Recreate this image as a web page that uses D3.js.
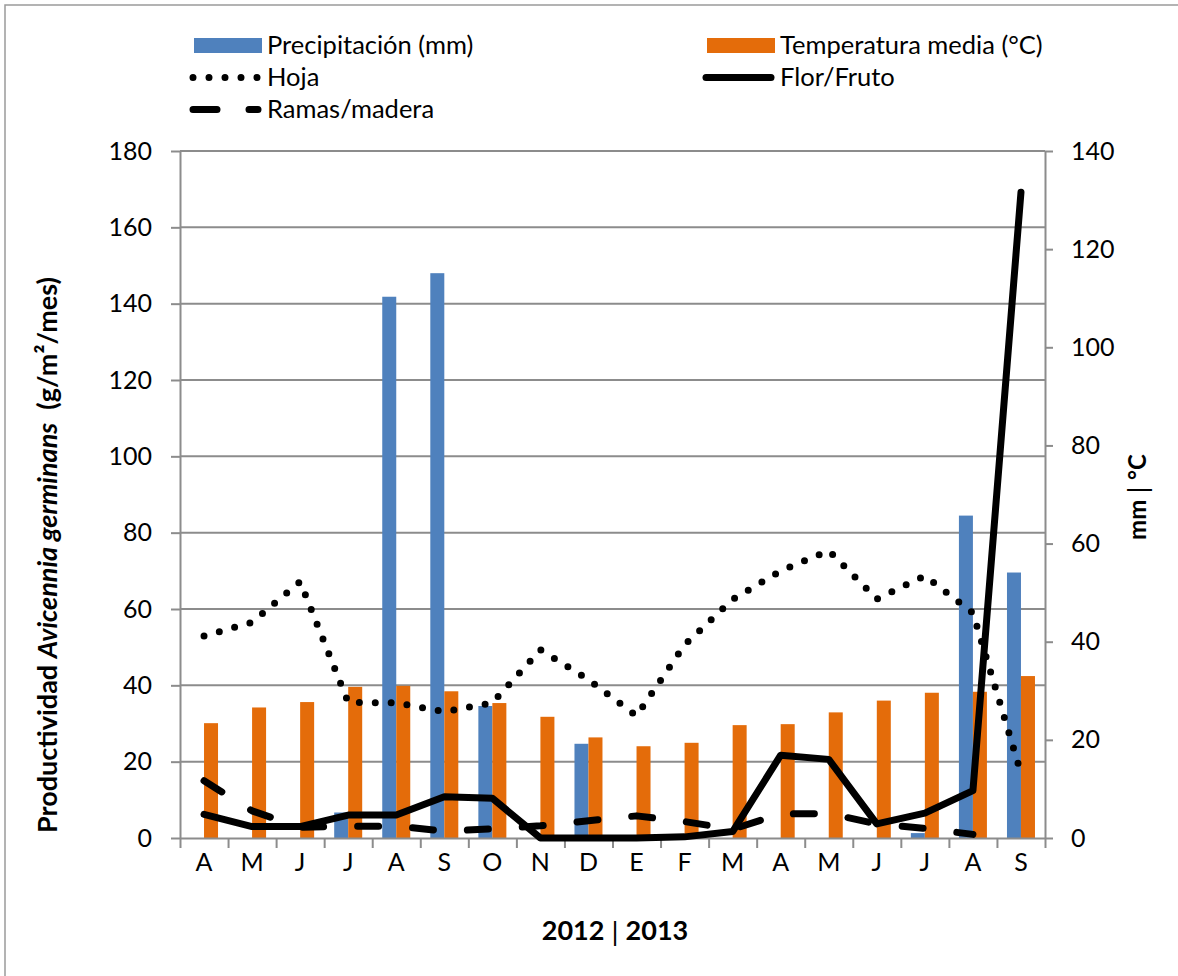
<!DOCTYPE html>
<html>
<head>
<meta charset="utf-8">
<script src="https://cdn.jsdelivr.net/npm/d3@7"></script>
<style>
  html, body { margin: 0; padding: 0; background: #ffffff; }
  svg { display: block; }
  text { font-family: Lato, "Open Sans", sans-serif; fill: #000; }
</style>
</head>
<body>
<svg id="chart" width="1178" height="976"></svg>
<script>
// Monthly series, April 2012 – September 2013
const months = ["A", "M", "J", "J", "A", "S", "O", "N", "D", "E", "F", "M", "A", "M", "J", "J", "A", "S"];

// Right axis (mm | °C)
const precipitation = [0, 0, 0, 5.2, 110.3, 115.1, 26.9, 0, 19.2, 0, 0, 0, 0, 0, 0, 1.0, 65.7, 54.1];
const temperature   = [23.4, 26.6, 27.7, 30.8, 31.0, 29.9, 27.5, 24.7, 20.5, 18.7, 19.4, 23.0, 23.2, 25.6, 28.0, 29.6, 29.8, 33.0];

// Left axis: litterfall productivity (g/m²/mes)
const hoja      = [52.9, 56.5, 67.2, 35.5, 35.4, 33.1, 35.4, 49.3, 41.5, 32.0, 50.6, 62.5, 70.0, 75.3, 62.6, 68.7, 59.0, 17.0];
const florFruto = [6.2, 3.0, 3.0, 6.0, 6.0, 10.8, 10.4, 0, 0, 0, 0.3, 1.7, 21.7, 20.6, 3.7, 6.5, 12.4, 169.2];
const ramas     = [15.0, 7.1, 2.8, 3.1, 3.1, 1.8, 2.4, 3.2, 4.5, 5.8, 4.3, 2.3, 6.3, 6.4, 3.7, 2.5, 0.95, null];

const leftTicks  = d3.range(0, 181, 20);
const rightTicks = d3.range(0, 141, 20);

const barNames   = ["Precipitación (mm)", "Temperatura media (°C)"];
const lineNames  = ["Hoja", "Flor/Fruto", "Ramas/madera"];
const xTitleYears = ["2012", "2013"];

const BLUE = "#4f81bd", ORANGE = "#e46c0a", GRID = "#8c8c8c";

const svg = d3.select("#chart");
const plot = { left: 180, right: 1045, top: 151, bottom: 838 };

// outer frame of the chart area
svg.append("rect")
  .attr("x", 5).attr("y", 5).attr("width", 1400).attr("height", 1400)
  .attr("fill", "none").attr("stroke", "#9a9a9a").attr("stroke-width", 1.5);

const x = d3.scaleBand().domain(d3.range(months.length)).range([plot.left, plot.right]).padding(0);
const xEdge = d3.scaleLinear().domain([0, months.length]).range([plot.left, plot.right]);
const xc = i => x(i) + x.bandwidth() / 2;
const half = 14;
const xs = d3.scaleBand().domain(["precip", "temp"]).range([x.bandwidth() / 2 - half, x.bandwidth() / 2 + half]);
const yL = d3.scaleLinear().domain([0, 180]).range([plot.bottom, plot.top]);
const yR = d3.scaleLinear().domain([0, 140]).range([plot.bottom, plot.top]);

// horizontal gridlines
svg.append("g").selectAll("line").data(leftTicks.filter(d => d > 0)).join("line")
  .attr("x1", plot.left).attr("x2", plot.right)
  .attr("y1", d => yL(d)).attr("y2", d => yL(d))
  .attr("stroke", GRID).attr("stroke-width", 2);

// bars
const bars = svg.append("g");
bars.selectAll("rect.p").data(precipitation).join("rect").attr("class", "p")
  .attr("x", (d, i) => x(i) + xs("precip")).attr("width", xs.bandwidth())
  .attr("y", d => yR(d)).attr("height", d => yR(0) - yR(d)).attr("fill", BLUE);
bars.selectAll("rect.t").data(temperature).join("rect").attr("class", "t")
  .attr("x", (d, i) => x(i) + xs("temp")).attr("width", xs.bandwidth())
  .attr("y", d => yR(d)).attr("height", d => yR(0) - yR(d)).attr("fill", ORANGE);

// axes
function styleAxis(g) {
  g.selectAll(".domain").attr("stroke", GRID).attr("stroke-width", 2);
  g.selectAll(".tick line").attr("stroke", GRID).attr("stroke-width", 2);
  g.selectAll("text").attr("font-family", "Lato, sans-serif").attr("font-size", 25).attr("fill", "#000");
}
svg.append("g").attr("transform", `translate(${plot.left},0)`)
  .call(d3.axisLeft(yL).tickValues(leftTicks).tickSize(9).tickPadding(19).tickSizeOuter(0))
  .call(styleAxis);
svg.append("g").attr("transform", `translate(${plot.right},0)`)
  .call(d3.axisRight(yR).tickValues(rightTicks).tickSize(8).tickPadding(18).tickSizeOuter(0))
  .call(styleAxis);
svg.append("g").attr("transform", `translate(0,${plot.bottom})`)
  .call(d3.axisBottom(xEdge).tickValues(d3.range(months.length + 1)).tickSize(10).tickFormat("").tickSizeOuter(0))
  .call(styleAxis);

// month labels
svg.append("g").selectAll("text").data(months).join("text")
  .attr("x", (d, i) => xc(i)).attr("y", 871)
  .attr("text-anchor", "middle").attr("font-size", 25).text(d => d);

// series lines
const line = d3.line().defined(d => d != null).x((d, i) => xc(i)).y(d => yL(d));
const lineStyles = {
  "Hoja":         { dash: "0 15.9", data: hoja },
  "Flor/Fruto":   { dash: null,     data: florFruto },
  "Ramas/madera": { dash: "21 34",  data: ramas }
};
const lines = svg.append("g");
["Ramas/madera", "Hoja", "Flor/Fruto"].forEach(name => {
  const s = lineStyles[name];
  lines.append("path").datum(s.data)
    .attr("d", line)
    .attr("fill", "none").attr("stroke", "#000").attr("stroke-width", 7)
    .attr("stroke-linecap", "round").attr("stroke-linejoin", "round")
    .attr("stroke-dasharray", s.dash);
});

// legend
const legend = svg.append("g");
const legendRows = [
  { name: barNames[0], kind: "bar", color: BLUE,   col: 0, row: 0 },
  { name: barNames[1], kind: "bar", color: ORANGE, col: 1, row: 0 },
  { name: lineNames[0], kind: "line", dash: "0 16",  col: 0, row: 1 },
  { name: lineNames[1], kind: "line", dash: null,    col: 1, row: 1 },
  { name: lineNames[2], kind: "line", dash: "24 32", col: 0, row: 2 }
];
const legX = d3.scaleOrdinal().domain([0, 1]).range([193, 706]);
const legY = d3.scaleOrdinal().domain([0, 1, 2]).range([45.5, 77.5, 109.5]);
legendRows.forEach(r => {
  const g = legend.append("g").attr("transform", `translate(${legX(r.col)},${legY(r.row)})`);
  if (r.kind === "bar") {
    g.append("rect").attr("x", 1).attr("y", -7.5).attr("width", 68).attr("height", 15).attr("fill", r.color);
  } else {
    g.append("line").attr("x1", 0).attr("x2", 65).attr("y1", 0).attr("y2", 0)
      .attr("stroke", "#000").attr("stroke-width", 7)
      .attr("stroke-linecap", "round").attr("stroke-dasharray", r.dash);
  }
  g.append("text").attr("x", 74).attr("y", 0).attr("dy", "0.35em")
    .attr("font-size", 25.5).text(r.name);
});

// left axis title
const yTitle = svg.append("text")
  .attr("transform", "translate(57,555) rotate(-90)")
  .attr("text-anchor", "middle").attr("font-size", 27).attr("font-weight", 700);
yTitle.append("tspan").text("Productividad ");
yTitle.append("tspan").attr("font-style", "italic").text("Avicennia germinans");
yTitle.append("tspan").text("\u00a0 (g/m²/mes)");

// right axis title
const rTitle = svg.append("text")
  .attr("transform", "translate(1146,497) rotate(-90)")
  .attr("text-anchor", "middle").attr("font-size", 24).attr("font-weight", 700);
rTitle.append("tspan").text("mm ");
rTitle.append("tspan").attr("font-weight", 400).attr("font-family", "DejaVu Sans").text("|");
rTitle.append("tspan").text(" °C");

// bottom title
const xTitle = svg.append("text")
  .attr("x", 615).attr("y", 940)
  .attr("text-anchor", "middle").attr("font-size", 27).attr("font-weight", 700);
xTitle.append("tspan").text(xTitleYears[0] + " ");
xTitle.append("tspan").attr("font-weight", 400).attr("font-family", "DejaVu Sans").attr("font-size", 24).text("|");
xTitle.append("tspan").text(" " + xTitleYears[1]);
</script>
</body>
</html>
